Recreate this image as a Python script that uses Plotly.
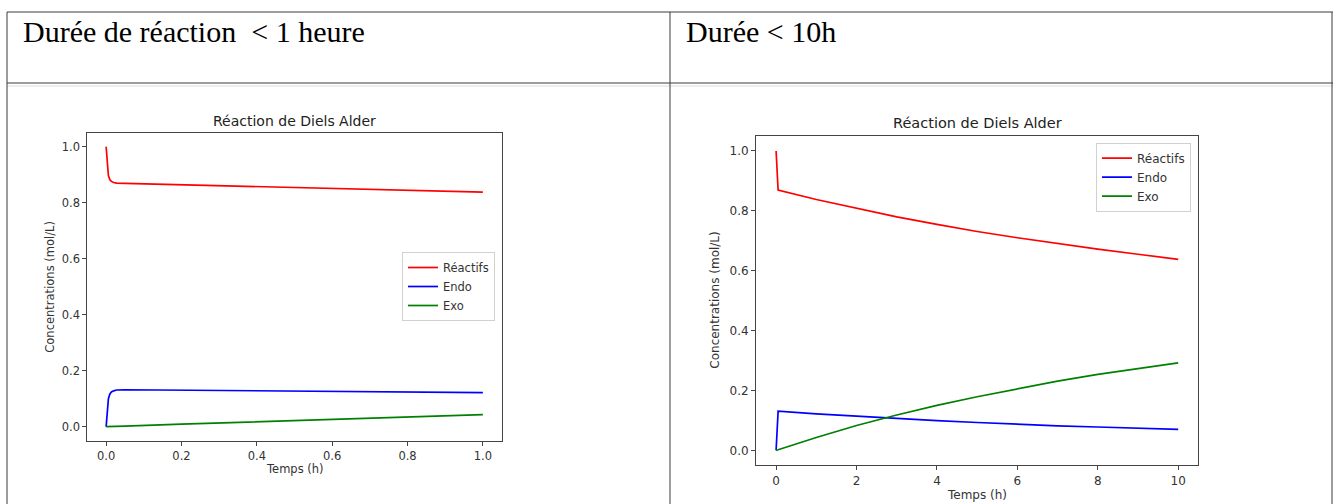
import plotly.graph_objects as go

W, H = 1335, 504

# ---------------- data ----------------
# Chart 1: durée < 1 heure
t1 = [0.0, 0.003, 0.006, 0.010, 0.014, 0.020, 0.028, 0.05, 0.2, 0.4, 0.6, 0.8, 1.0]
reactifs1 = [1.0, 0.93, 0.897, 0.882, 0.876, 0.872, 0.870, 0.869, 0.864, 0.857, 0.850, 0.844, 0.838]
endo1 = [0.0, 0.07, 0.10, 0.117, 0.124, 0.128, 0.131, 0.132, 0.130, 0.128, 0.126, 0.124, 0.122]
exo1 = [0.0, 0.0, 0.0, 0.0, 0.0005, 0.001, 0.001, 0.002, 0.009, 0.018, 0.026, 0.035, 0.043]

# Chart 2: durée < 10 h
t2 = [0.0, 0.05, 1, 2, 3, 4, 5, 6, 7, 8, 9, 10]
reactifs2 = [1.0, 0.869, 0.838, 0.808, 0.780, 0.755, 0.731, 0.710, 0.690, 0.672, 0.655, 0.638]
endo2 = [0.0, 0.131, 0.122, 0.114, 0.106, 0.099, 0.093, 0.087, 0.082, 0.078, 0.073, 0.070]
exo2 = [0.0, 0.002, 0.043, 0.083, 0.118, 0.150, 0.179, 0.206, 0.231, 0.254, 0.274, 0.292]

series_names = ["Réactifs", "Endo", "Exo"]
series_colors = ["#ff0000", "#0000ff", "#008000"]

xticks1 = [0.0, 0.2, 0.4, 0.6, 0.8, 1.0]
xticks2 = [0, 2, 4, 6, 8, 10]
yticks = [0.0, 0.2, 0.4, 0.6, 0.8, 1.0]

header_left = "Durée de réaction \u00a0< 1 heure"
header_right = "Durée < 10h"
chart_title = "Réaction de Diels Alder"
xlabel = "Temps (h)"
ylabel = "Concentrations (mol/L)"


def px(x):
    return x / W


def py(y):
    return 1 - y / H


fig = go.Figure()

for name, col, ys in zip(series_names, series_colors, [reactifs1, endo1, exo1]):
    fig.add_trace(go.Scatter(x=t1, y=ys, mode="lines", name=name,
                             line=dict(color=col, width=1.7),
                             xaxis="x", yaxis="y", legend="legend"))
for name, col, ys in zip(series_names, series_colors, [reactifs2, endo2, exo2]):
    fig.add_trace(go.Scatter(x=t2, y=ys, mode="lines", name=name,
                             line=dict(color=col, width=1.7),
                             xaxis="x2", yaxis="y2", legend="legend2"))

axcol = "#444444"
font_mpl = "DejaVu Sans"


def axis(domain, rng, tickvals, fmt, anchor, size):
    return dict(domain=domain, range=rng, tickvals=tickvals, tickformat=fmt,
                showgrid=False, zeroline=False, showline=True, mirror=True,
                linecolor=axcol, linewidth=1, ticks="outside", ticklen=4,
                tickcolor=axcol, tickwidth=1, anchor=anchor,
                tickfont=dict(family=font_mpl, size=size, color="#333333"))


fig.update_layout(
    width=W, height=H,
    margin=dict(l=0, r=0, t=0, b=0),
    paper_bgcolor="white", plot_bgcolor="white",
    xaxis=axis([px(87.3), px(501.7)], [-0.05, 1.05], xticks1, ".1f", "y", 11.5),
    yaxis=axis([py(440.7), py(132.7)], [-0.05, 1.05], yticks, ".1f", "x", 11.5),
    xaxis2=axis([px(756), px(1198.3)], [-0.5, 10.5], xticks2, "d", "y2", 12),
    yaxis2=axis([py(465.3), py(136)], [-0.05, 1.05], yticks, ".1f", "x2", 12),
    legend=dict(x=px(495), xanchor="right", y=py(286.5), yanchor="middle",
                bgcolor="white", bordercolor="#d0d0d0", borderwidth=1,
                font=dict(family=font_mpl, size=11.5, color="#333333"),
                itemwidth=30, tracegroupgap=0),
    legend2=dict(x=px(1191), xanchor="right", y=py(142.7), yanchor="top",
                 bgcolor="white", bordercolor="#d0d0d0", borderwidth=1,
                 font=dict(family=font_mpl, size=12, color="#333333"),
                 itemwidth=30, tracegroupgap=0),
    showlegend=True,
)

# table lines
line_col = "#3a3a3a"
shapes = [
    dict(type="line", xref="paper", yref="paper", x0=px(7), x1=px(1333), y0=py(12), y1=py(12),
         line=dict(color=line_col, width=1)),
    dict(type="line", xref="paper", yref="paper", x0=px(7), x1=px(1333), y0=py(83), y1=py(83),
         line=dict(color=line_col, width=1)),
    dict(type="line", xref="paper", yref="paper", x0=px(7), x1=px(1333), y0=py(86), y1=py(86),
         line=dict(color="#dddddd", width=1)),
    dict(type="line", xref="paper", yref="paper", x0=px(7), x1=px(7), y0=py(12), y1=py(504),
         line=dict(color=line_col, width=1)),
    dict(type="line", xref="paper", yref="paper", x0=px(670), x1=px(670), y0=py(12), y1=py(504),
         line=dict(color=line_col, width=1)),
    dict(type="line", xref="paper", yref="paper", x0=px(1332), x1=px(1332), y0=py(12), y1=py(504),
         line=dict(color=line_col, width=1)),
]
fig.update_layout(shapes=shapes)

ann = []
serif = "Liberation Serif, Times New Roman, serif"
ann.append(dict(text=header_left, x=px(21), y=py(31), xref="paper", yref="paper",
                xanchor="left", yanchor="middle", showarrow=False,
                font=dict(family=serif, size=30, color="black")))
ann.append(dict(text=header_right, x=px(684), y=py(31), xref="paper", yref="paper",
                xanchor="left", yanchor="middle", showarrow=False,
                font=dict(family=serif, size=30, color="black")))
# chart titles
ann.append(dict(text=chart_title, x=px(294.5), y=py(121), xref="paper", yref="paper",
                xanchor="center", yanchor="middle", showarrow=False,
                font=dict(family=font_mpl, size=14, color="#222222")))
ann.append(dict(text=chart_title, x=px(977), y=py(123), xref="paper", yref="paper",
                xanchor="center", yanchor="middle", showarrow=False,
                font=dict(family=font_mpl, size=14.5, color="#222222")))
# axis labels
ann.append(dict(text=xlabel, x=px(294.5), y=py(469), xref="paper", yref="paper",
                xanchor="center", yanchor="middle", showarrow=False,
                font=dict(family=font_mpl, size=11.5, color="#333333")))
ann.append(dict(text=ylabel, x=px(50), y=py(286.7), xref="paper", yref="paper",
                xanchor="center", yanchor="middle", showarrow=False, textangle=-90,
                font=dict(family=font_mpl, size=11.5, color="#333333")))
ann.append(dict(text=xlabel, x=px(977), y=py(495), xref="paper", yref="paper",
                xanchor="center", yanchor="middle", showarrow=False,
                font=dict(family=font_mpl, size=12, color="#333333")))
ann.append(dict(text=ylabel, x=px(715), y=py(300.7), xref="paper", yref="paper",
                xanchor="center", yanchor="middle", showarrow=False, textangle=-90,
                font=dict(family=font_mpl, size=12, color="#333333")))
fig.update_layout(annotations=ann)

fig.write_html(
    "out.html",
    config={"displayModeBar": False},
    post_script="document.body.style.margin='0';document.body.style.overflow='hidden';",
)
